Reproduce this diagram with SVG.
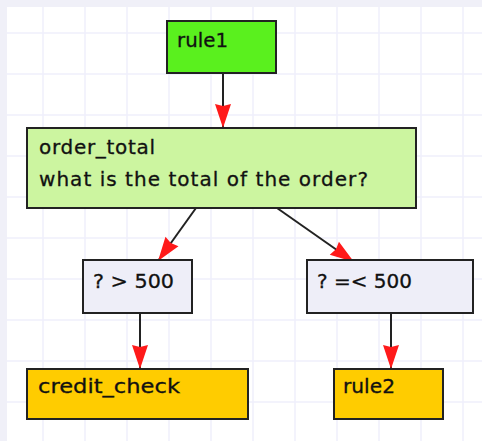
<svg xmlns="http://www.w3.org/2000/svg" width="482" height="441" viewBox="0 0 482 441">
<style>
.box{stroke:#222;stroke-width:2}
.t{font-family:"DejaVu Sans",Verdana,sans-serif;fill:#111;stroke:#111;stroke-width:0.3}
.edge{stroke:#222;stroke-width:2;fill:none;marker-end:url(#ah)}
.grid{stroke:#f0f0fc;stroke-width:1.5}
</style>
<defs>
<marker id="ah" markerUnits="userSpaceOnUse" markerWidth="26" markerHeight="20" viewBox="-1 -10 26 20" refX="24" refY="0" orient="auto">
<path d="M0,-8 L24,0 L0,8 L2,0 Z" fill="#ff1a1a"/>
</marker>
</defs>
<rect x="0" y="0" width="482" height="441" fill="#f0f0f8"/>
<rect x="7" y="7" width="475" height="434" fill="#ffffff"/>
<g id="grid">
<path class="grid" d="M43,7V441M85,7V441M127,7V441M169,7V441M211,7V441M253,7V441M295,7V441M337,7V441M379,7V441M421,7V441M463,7V441"/>
<path class="grid" d="M7,33H482M7,74H482M7,115H482M7,156H482M7,197H482M7,238H482M7,279H482M7,320H482M7,361H482M7,402H482"/>
</g>
<g id="connectors">
<path class="edge" d="M223,73 L223,128"/>
<path class="edge" d="M196,208 L158,261"/>
<path class="edge" d="M277,208 L354,262"/>
<path class="edge" d="M140,313 L140,369"/>
<path class="edge" d="M391,313 L391,369"/>
</g>
<g id="rule1">
<rect class="box" x="167" y="21" width="109" height="52" fill="#5af01e"/>
<text class="t" x="177" y="47" font-size="19" textLength="51" lengthAdjust="spacingAndGlyphs">rule1</text>
</g>
<g id="order_total">
<rect class="box" x="27" y="128" width="389" height="80" fill="#ccf5a0"/>
<text class="t" x="39" y="154" font-size="20" textLength="116" lengthAdjust="spacing">order_total</text>
<text class="t" x="39" y="186" font-size="20" textLength="329" lengthAdjust="spacing">what is the total of the order?</text>
</g>
<g id="cond1">
<rect class="box" x="83" y="260" width="109" height="53" fill="#eeeef8"/>
<text class="t" x="93" y="288" font-size="20" textLength="81" lengthAdjust="spacingAndGlyphs">? &gt; 500</text>
</g>
<g id="cond2">
<rect class="box" x="307" y="260" width="166" height="53" fill="#eeeef8"/>
<text class="t" x="317" y="288" font-size="20" textLength="95" lengthAdjust="spacingAndGlyphs">? =&lt; 500</text>
</g>
<g id="credit_check">
<rect class="box" x="27" y="369" width="221" height="50" fill="#ffcc00"/>
<text class="t" x="38" y="393" font-size="20" textLength="142" lengthAdjust="spacingAndGlyphs">credit_check</text>
</g>
<g id="rule2">
<rect class="box" x="334" y="369" width="109" height="50" fill="#ffcc00"/>
<text class="t" x="343" y="393" font-size="19" textLength="52" lengthAdjust="spacingAndGlyphs">rule2</text>
</g>
</svg>
